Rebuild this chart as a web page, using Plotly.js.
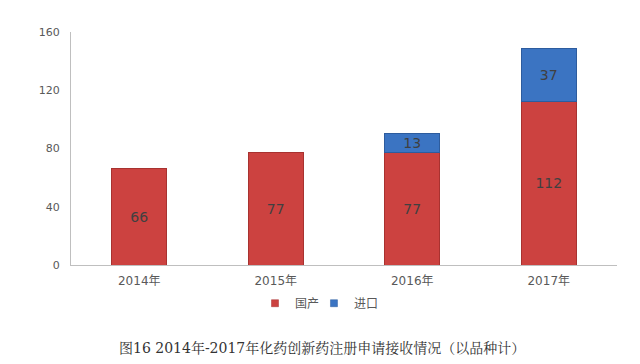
<!DOCTYPE html>
<html>
<head>
<meta charset="utf-8">
<script src="https://cdn.plot.ly/plotly-3.0.1.min.js"></script>
<style>html,body{margin:0;padding:0;background:#fff;}#chart{width:640px;height:364px;}</style>
</head>
<body>
<div id="chart"></div>
<script>
const categories = ["2014年", "2015年", "2016年", "2017年"];
const domestic = [66, 77, 77, 112];
const imported = [null, null, 13, 37];
const seriesNames = ["国产", "进口"];
const seriesColors = ["#cc4240", "#3b74c2"];
const yTicks = [0, 40, 80, 120, 160];
const caption = "图16 2014年-2017年化药创新药注册申请接收情况（以品种计）";

const labelFont = {family: "DejaVu Sans, Noto Sans CJK SC", size: 14, color: "#404040"};
const legendFont = {size: 12, color: "#595959", family: "Noto Sans CJK SC, DejaVu Sans"};

const traces = [
  {
    type: "bar", name: seriesNames[0], x: categories, y: domestic,
    marker: {color: seriesColors[0], line: {color: "#a83230", width: 1}},
    text: domestic.map(v => v == null ? "" : String(v)),
    textposition: "inside", insidetextanchor: "middle", textfont: labelFont,
    constraintext: "none", showlegend: false
  },
  {
    type: "bar", name: seriesNames[1], x: categories, y: imported,
    marker: {color: seriesColors[1], line: {color: "#2d5c9e", width: 1}},
    text: imported.map(v => v == null ? "" : String(v)),
    textposition: "inside", insidetextanchor: "middle", textfont: labelFont,
    constraintext: "none", showlegend: false
  },
  {
    type: "scatter", mode: "markers", name: seriesNames[0], x: [null], y: [null],
    legend: "legend",
    marker: {symbol: "square", size: 7, color: seriesColors[0], line: {color: "#a83230", width: 0.5}}
  },
  {
    type: "scatter", mode: "markers", name: seriesNames[1], x: [null], y: [null],
    legend: "legend2",
    marker: {symbol: "square", size: 7, color: seriesColors[1], line: {color: "#2d5c9e", width: 0.5}}
  }
];

const layout = {
  width: 640, height: 364,
  margin: {l: 71, r: 23, t: 32, b: 99},
  barmode: "stack",
  bargap: 0.6,
  paper_bgcolor: "#ffffff",
  plot_bgcolor: "#ffffff",
  font: {family: "DejaVu Sans, Noto Sans CJK SC", color: "#595959"},
  xaxis: {
    type: "category",
    showline: true, linecolor: "#bfbfbf", linewidth: 1,
    showgrid: false, zeroline: false,
    ticks: "", ticklabelstandoff: 5,
    tickfont: {size: 12, color: "#595959", family: "DejaVu Sans, Noto Sans CJK SC"}
  },
  yaxis: {
    range: [0, 160],
    tickvals: yTicks, ticktext: yTicks.map(String),
    showline: true, linecolor: "#bfbfbf", linewidth: 1,
    showgrid: false, zeroline: false,
    ticks: "", ticklabelstandoff: 8,
    tickfont: {size: 11, color: "#595959", family: "DejaVu Sans, Noto Sans CJK SC"}
  },
  showlegend: true,
  legend: {
    orientation: "h", x: 0.337, xanchor: "left", y: -0.164, yanchor: "middle",
    bgcolor: "rgba(0,0,0,0)",
    font: legendFont, itemwidth: 30, itemclick: false
  },
  legend2: {
    orientation: "h", x: 0.445, xanchor: "left", y: -0.164, yanchor: "middle",
    bgcolor: "rgba(0,0,0,0)",
    font: legendFont, itemwidth: 30, itemclick: false
  },
  annotations: [{
    text: caption, xref: "paper", yref: "paper",
    x: 0.46, y: -0.356, xanchor: "center", yanchor: "middle",
    showarrow: false,
    font: {family: "DejaVu Serif, Noto Serif CJK SC, Noto Sans CJK SC", size: 14, color: "#333333"}
  }]
};

Plotly.newPlot("chart", traces, layout, {displayModeBar: false, staticPlot: true});
</script>
</body>
</html>
